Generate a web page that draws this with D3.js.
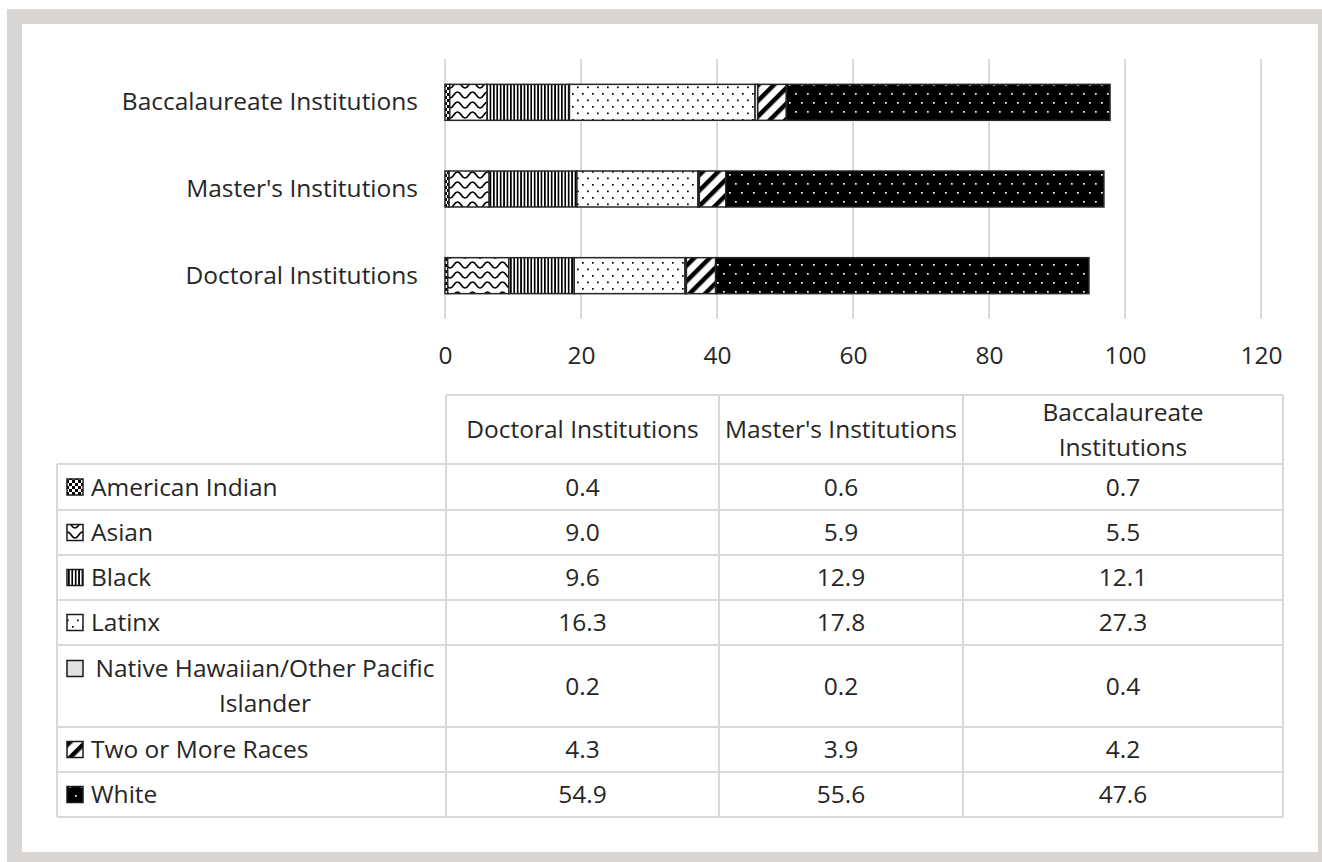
<!DOCTYPE html>
<html>
<head>
<meta charset="utf-8">
<script src="https://cdn.jsdelivr.net/npm/d3@7/dist/d3.min.js"></script>
<style>
  body { margin: 0; background: #fff; }
  svg { display: block; font-family: "Open Sans", sans-serif; }
</style>
</head>
<body>
<svg id="chart" width="1322" height="862"></svg>
<script>
// data
const institutions = ["Doctoral Institutions", "Master's Institutions", "Baccalaureate Institutions"];
const races = ["American Indian", "Asian", "Black", "Latinx",
  "Native Hawaiian/Other Pacific Islander", "Two or More Races", "White"];
const doctoral = [0.4, 9.0, 9.6, 16.3, 0.2, 4.3, 54.9];
const masters = [0.6, 5.9, 12.9, 17.8, 0.2, 3.9, 55.6];
const baccalaureate = [0.7, 5.5, 12.1, 27.3, 0.4, 4.2, 47.6];
const xTicks = [0, 20, 40, 60, 80, 100, 120];

const seriesByInst = [doctoral, masters, baccalaureate];
const textColor = "#262626";
const lineColor = "#d9d9d9";
const fontSize = 24.5;

const svg = d3.select("#chart");

// frame
svg.append("rect").attr("x", 7).attr("y", 9).attr("width", 1330).attr("height", 870).attr("fill", "#d9d5d2");
svg.append("rect").attr("x", 22).attr("y", 24).attr("width", 1296).attr("height", 828).attr("fill", "#fff");

// fill patterns
const defs = svg.append("defs");
function pattern(id, w, h, bg, transform) {
  const p = defs.append("pattern").attr("id", id)
    .attr("patternUnits", "userSpaceOnUse").attr("width", w).attr("height", h);
  if (transform) p.attr("patternTransform", transform);
  p.append("rect").attr("width", w).attr("height", h).attr("fill", bg);
  return p;
}
let p = pattern("p0", 6, 6, "#fff");
p.append("rect").attr("width", 3).attr("height", 3).attr("fill", "#000");
p.append("rect").attr("x", 3).attr("y", 3).attr("width", 3).attr("height", 3).attr("fill", "#000");

p = pattern("p1", 15, 10, "#fff");
p.append("path").attr("d", "M-3.75,5 Q0,11 3.75,5 T11.25,5 T18.75,5")
  .attr("fill", "none").attr("stroke", "#000").attr("stroke-width", 1.6);

p = pattern("p2", 3.4, 10, "#fff");
p.append("rect").attr("width", 1.7).attr("height", 10).attr("fill", "#000");

p = pattern("p3", 10, 13, "#fff");
p.append("rect").attr("x", 2).attr("y", 2).attr("width", 1.7).attr("height", 1.7).attr("fill", "#000");
p.append("rect").attr("x", 7).attr("y", 8.5).attr("width", 1.7).attr("height", 1.7).attr("fill", "#000");

pattern("p4", 4, 4, "#e2e2e2");

p = pattern("p5", 11, 11, "#fff", "rotate(45)");
p.append("rect").attr("width", 4.5).attr("height", 11).attr("fill", "#000");

p = pattern("p6", 12, 18, "#000");
p.append("rect").attr("x", 3).attr("y", 3).attr("width", 1.7).attr("height", 1.7).attr("fill", "#fff");
p.append("rect").attr("x", 9).attr("y", 12).attr("width", 1.7).attr("height", 1.7).attr("fill", "#fff");

const fillOf = i => `url(#p${i})`;

// bar chart
const x = d3.scaleLinear().domain([0, 120]).range([445, 1261]);
const y = d3.scaleBand()
  .domain(institutions.slice().reverse())
  .range([59, 319])
  .paddingInner(0.585)
  .paddingOuter(0.2925);

svg.append("g").selectAll("line").data(xTicks).join("line")
  .attr("x1", d => x(d)).attr("x2", d => x(d))
  .attr("y1", 59).attr("y2", 319)
  .attr("stroke", lineColor).attr("stroke-width", 2);

const rows = institutions.map((inst, i) => {
  const row = { inst };
  races.forEach((r, j) => { row[r] = seriesByInst[i][j]; });
  return row;
});
const stacked = d3.stack().keys(races)(rows);

svg.append("g").selectAll("g").data(stacked).join("g")
  .attr("fill", (d, i) => fillOf(i))
  .selectAll("rect").data(d => d).join("rect")
  .attr("x", d => x(d[0]))
  .attr("width", d => x(d[1]) - x(d[0]))
  .attr("y", d => y(d.data.inst))
  .attr("height", y.bandwidth())
  .attr("stroke", "#262626").attr("stroke-width", 1.5);

const xAxis = d3.axisBottom(x).tickValues(xTicks).tickSize(0).tickPadding(0);
const gx = svg.append("g").attr("transform", "translate(0,355)").call(xAxis);
gx.select(".domain").remove();
gx.selectAll("text").attr("font-size", fontSize).attr("fill", textColor)
  .attr("font-family", "Open Sans").attr("dy", "0.35em");

const yAxis = d3.axisLeft(y).tickSize(0).tickPadding(0);
const gy = svg.append("g").attr("transform", "translate(418,0)").call(yAxis);
gy.select(".domain").remove();
gy.selectAll("text").attr("font-size", fontSize).attr("fill", textColor).attr("font-family", "Open Sans");

// data table
const colEdges = [57, 446, 719, 963, 1283];
const rowHeights = [46, 45, 45, 45, 82, 45, 45];
const headTop = 395, headBottom = 464;
const rowEdges = [headBottom];
rowHeights.forEach(h => rowEdges.push(rowEdges[rowEdges.length - 1] + h));
const tableBottom = rowEdges[rowEdges.length - 1];

const grid = svg.append("g").attr("stroke", lineColor).attr("stroke-width", 2);
grid.append("line").attr("x1", colEdges[1]).attr("x2", colEdges[4]).attr("y1", headTop).attr("y2", headTop);
rowEdges.forEach(yy => grid.append("line").attr("x1", colEdges[0]).attr("x2", colEdges[4]).attr("y1", yy).attr("y2", yy));
colEdges.forEach((xx, i) => grid.append("line").attr("x1", xx).attr("x2", xx)
  .attr("y1", i === 0 ? headBottom : headTop).attr("y2", tableBottom));

const measure = svg.append("text").attr("font-size", fontSize).attr("visibility", "hidden");
function wrap(text, width) {
  const words = text.split(" ");
  const lines = [];
  let cur = "";
  words.forEach(w => {
    const test = cur ? cur + " " + w : w;
    measure.text(test);
    if (cur && measure.node().getComputedTextLength() > width) { lines.push(cur); cur = w; }
    else cur = test;
  });
  lines.push(cur);
  return lines;
}
const lh = 35;
function cellText(g, lines, cx, cy, anchor, ax) {
  const t = g.append("text").attr("font-size", fontSize).attr("fill", textColor)
    .attr("text-anchor", lines.length > 1 ? "middle" : anchor);
  lines.forEach((ln, k) => {
    t.append("tspan")
      .attr("x", lines.length > 1 ? cx : ax)
      .attr("y", cy + (k - (lines.length - 1) / 2) * lh)
      .attr("dy", "0.35em")
      .text(ln);
  });
}

const table = svg.append("g");
const headerWrap = 260;
institutions.forEach((inst, i) => {
  const cx = (colEdges[i + 1] + colEdges[i + 2]) / 2;
  const lines = wrap(inst, headerWrap);
  cellText(table, lines, cx, (headTop + headBottom) / 2, "middle", cx);
});

const fmt = d3.format(".1f");
races.forEach((race, j) => {
  const cy = (rowEdges[j] + rowEdges[j + 1]) / 2;
  const lines = wrap(race, 352);
  const keyY = cy - (lines.length - 1) / 2 * lh;
  table.append("rect").attr("x", 67).attr("y", keyY - 8).attr("width", 16).attr("height", 16)
    .attr("fill", fillOf(j)).attr("stroke", "#1a1a1a").attr("stroke-width", 1.5);
  cellText(table, lines, (89 + 441) / 2, cy, "start", 91);
  seriesByInst.forEach((vals, i) => {
    const cx = (colEdges[i + 1] + colEdges[i + 2]) / 2;
    table.append("text").attr("x", cx).attr("y", cy).attr("dy", "0.35em")
      .attr("text-anchor", "middle").attr("font-size", fontSize).attr("fill", textColor)
      .text(fmt(vals[j]));
  });
});
measure.remove();
</script>
</body>
</html>
